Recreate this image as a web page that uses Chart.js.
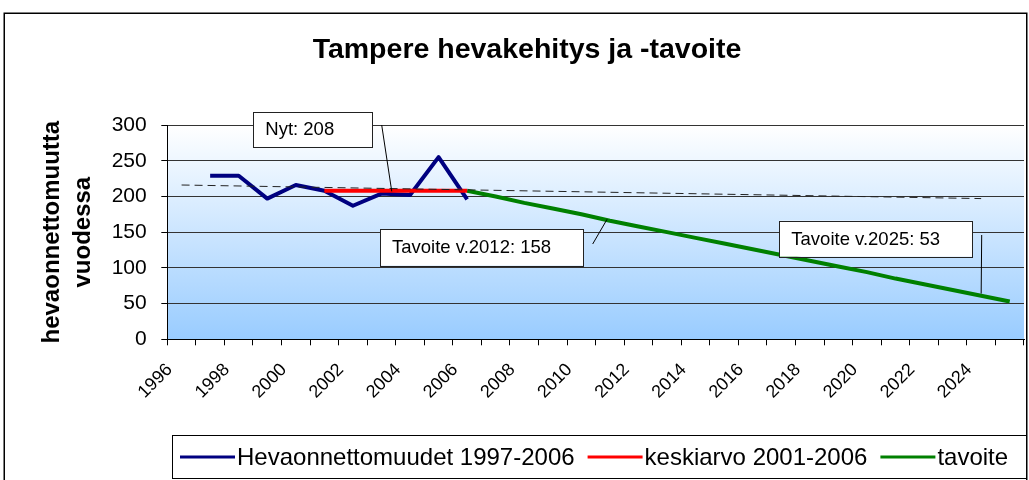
<!DOCTYPE html>
<html><head><meta charset="utf-8">
<script src="https://cdn.jsdelivr.net/npm/chart.js@4/dist/chart.umd.min.js"></script>
<style>html,body{margin:0;padding:0;background:#fff;overflow:hidden}</style>
</head><body>
<canvas id="c" width="1029" height="480"></canvas>
<script>
// ---- data ----
const years = ['1996','1997','1998','1999','2000','2001','2002','2003','2004','2005',
               '2006','2007','2008','2009','2010','2011','2012','2013','2014','2015',
               '2016','2017','2018','2019','2020','2021','2022','2023','2024','2025'];
const accidents = [null,229,229,197,216,208,187,204,202,255,196,
                   null,null,null,null,null,null,null,null,null,
                   null,null,null,null,null,null,null,null,null,null];
const average   = [null,null,null,null,null,208,208,208,208,208,208,
                   null,null,null,null,null,null,null,null,null,
                   null,null,null,null,null,null,null,null,null,null];
const target    = [null,null,null,null,null,null,null,null,null,null,
                   208,200,191,183,175,166,158,150,142,134,
                   126,118,110,102,94,85,77,69,61,53];
const trend     = [216,null,null,null,null,null,null,null,null,null,
                   null,null,null,null,null,null,null,null,null,null,
                   null,null,null,null,null,null,null,null,197,null];
const seriesNames = ['Hevaonnettomuudet 1997-2006','keskiarvo 2001-2006','tavoite'];
const yTicks = [0,50,100,150,200,250,300];
const titleText = 'Tampere hevakehitys ja -tavoite';
const yTitle = ['hevaonnettomuutta','vuodessa'];
// callouts: text, box (layout px), leader start (layout px), leader end (data: category index, value)
const notes = [
  {text:'Nyt: 208',            box:[253.3,111.7,119.4,35],  from:[381.7,125], at:[7.36,207]},
  {text:'Tavoite v.2012: 158', box:[380,229,203.3,36.7],    from:[592.7,244], at:[14.9,168]},
  {text:'Tavoite v.2025: 53',  box:[779.3,220.7,193,36],    from:[981.7,235], at:[28,64]}
];

const FONT = '"Liberation Sans", Arial, sans-serif';
Chart.defaults.font.family = FONT;
Chart.defaults.color = '#000';

const decor = {
  id:'decor',
  beforeDraw(chart){
    const {ctx, chartArea:a} = chart;
    ctx.save();
    ctx.fillStyle='#fff'; ctx.fillRect(0,0,chart.width,chart.height);
    ctx.strokeStyle='#000'; ctx.lineWidth=1.5; ctx.strokeRect(4.25,13.25,1022.5,500);
    const g = ctx.createLinearGradient(0,a.top,0,a.bottom);
    g.addColorStop(0,'#FFFFFF'); g.addColorStop(1,'#99CCFF');
    ctx.fillStyle=g; ctx.fillRect(a.left,a.top,a.right-a.left,a.bottom-a.top);
    ctx.fillStyle='#000'; ctx.font='bold 28.5px '+FONT; ctx.textAlign='center'; ctx.textBaseline='middle';
    ctx.fillText(titleText,527,50);
    ctx.restore();
  },
  afterDatasetsDraw(chart){
    const {ctx, scales:{x,y}} = chart;
    ctx.save();
    notes.forEach(n=>{
      const ex = x.getPixelForValue(n.at[0]), ey = y.getPixelForValue(n.at[1]);
      ctx.strokeStyle='#000'; ctx.lineWidth=1;
      ctx.beginPath(); ctx.moveTo(n.from[0],n.from[1]); ctx.lineTo(ex,ey); ctx.stroke();
      const [bx,by,bw,bh] = n.box;
      ctx.fillStyle='#fff'; ctx.fillRect(bx,by,bw,bh);
      ctx.strokeStyle='#222'; ctx.strokeRect(Math.round(bx)+0.5,Math.round(by)+0.5,Math.round(bw),Math.round(bh));
      ctx.fillStyle='#000'; ctx.font='18.5px '+FONT; ctx.textBaseline='middle'; ctx.textAlign='left';
      ctx.fillText(n.text,bx+12,by+bh/2+1);
    });
    ctx.restore();
  },
  afterDraw(chart){
    const {ctx} = chart;
    ctx.save();
    ctx.fillStyle='#fff'; ctx.fillRect(172,435,854,44);
    ctx.strokeStyle='#000'; ctx.lineWidth=1; ctx.strokeRect(172.5,435.5,854,43);
    ctx.font='24px '+FONT; ctx.textBaseline='middle'; ctx.textAlign='left';
    let px = 180;
    chart.data.datasets.filter(d=>d.inLegend).forEach(d=>{
      ctx.strokeStyle=d.borderColor; ctx.lineWidth=3;
      ctx.beginPath(); ctx.moveTo(px,457); ctx.lineTo(px+55,457); ctx.stroke();
      ctx.fillStyle='#000'; ctx.fillText(d.label,px+57,458);
      px += 57 + ctx.measureText(d.label).width + 13;
    });
    ctx.restore();
  }
};

new Chart(document.getElementById('c'), {
  type:'line',
  data:{
    labels:years,
    datasets:[
      {label:seriesNames[0], data:accidents, borderColor:'#000080', borderWidth:4, pointRadius:0, order:2, inLegend:true},
      {label:seriesNames[1], data:average, borderColor:'#FF0000', borderWidth:4, pointRadius:0, order:1, inLegend:true},
      {label:seriesNames[2], data:target, borderColor:'#008000', borderWidth:4, pointRadius:0, order:3, inLegend:true},
      {label:'trend', data:trend, borderColor:'#222', borderWidth:1, borderDash:[8,5], spanGaps:true, pointRadius:0, order:0, inLegend:false}
    ]
  },
  options:{
    responsive:false, animation:false, devicePixelRatio:1,
    layout:{padding:{left:4,right:5,top:125,bottom:0}},
    elements:{line:{tension:0, borderCapStyle:'butt', borderJoinStyle:'round'}},
    plugins:{legend:{display:false}, tooltip:{enabled:false}, title:{display:false}},
    scales:{
      x:{
        type:'category', offset:true,
        grid:{offset:true, drawOnChartArea:false, tickLength:6, color:'#000'},
        border:{color:'#000', width:1},
        ticks:{autoSkip:false, minRotation:45, maxRotation:45, padding:14, labelOffset:-12,
               font:{size:18}, color:'#000',
               callback:(v,i)=> i%2===0 ? years[i] : ''},
        afterFit:s=>{s.height=140.7; s.paddingLeft=0; s.paddingRight=0;}
      },
      y:{
        min:0, max:300,
        afterBuildTicks:s=>{s.ticks = yTicks.map(v=>({value:v}));},
        grid:{color:'#333', tickColor:'#000', tickLength:6, lineWidth:1},
        border:{color:'#000', width:1},
        ticks:{font:{size:21}, color:'#000', padding:14.6},
        title:{display:true, text:yTitle, color:'#000', font:{size:24, weight:'bold', lineHeight:1.28}, padding:{top:33,bottom:0}},
        afterFit:s=>{s.width=163.3;}
      }
    }
  },
  plugins:[decor]
});
</script>
</body></html>
